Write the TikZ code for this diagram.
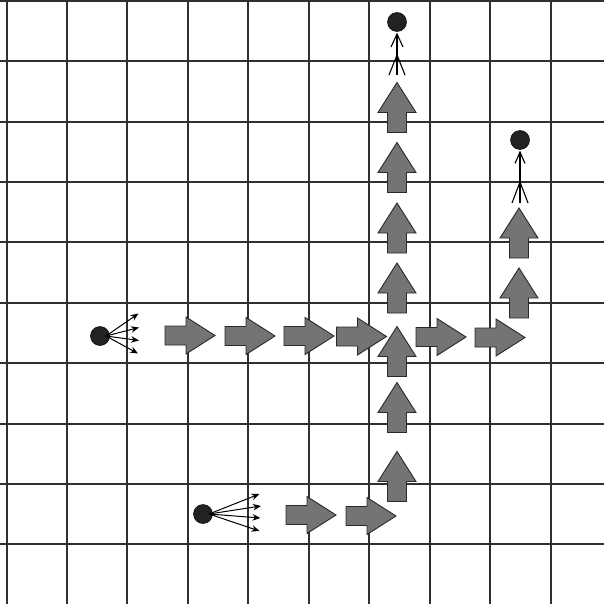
\documentclass[tikz,border=0pt]{standalone}
\usetikzlibrary{arrows.meta}
\definecolor{blockgray}{HTML}{747474}
\definecolor{edgegray}{HTML}{2A2A2A}
\definecolor{gridcol}{HTML}{303030}
\definecolor{dotblack}{HTML}{222222}
\tikzset{
  gridline/.style={draw=gridcol, line width=1.6pt},
  blockarrow/.style={fill=blockgray, draw=edgegray, line width=0.9pt, line join=miter},
  dotnode/.style={circle, fill=dotblack, draw=black, line width=0.5pt, minimum size=19pt, inner sep=0pt},
  fan/.style={draw=black, line width=1pt, -{Stealth[length=8pt,width=6.5pt]}},
  thin/.style={draw=black, line width=1.1pt},
  pics/rarrow/.style={code={
    \path[blockarrow] (-25,-9.5) -- (-4,-9.5) -- (-4,-18.5) -- (25,0) -- (-4,18.5) -- (-4,9.5) -- (-25,9.5) -- cycle;
  }},
  pics/uarrow/.style={code={
    \path[blockarrow] (-9.5,25) -- (-9.5,5) -- (-19,5) -- (0,-25) -- (19,5) -- (9.5,5) -- (9.5,25) -- cycle;
  }}
}
\begin{document}
\begin{tikzpicture}[x=1pt,y=-1pt]
\useasboundingbox (0,0) rectangle (604,604);
\fill[white] (0,0) rectangle (604,604);
% grid
\foreach \gx in {7,67,127,188,248,309,369,430,490,551}
  \draw[gridline] (\gx,0) -- (\gx,604);
\foreach \gy in {1,61,122,182,242,303,363,424,484,544}
  \draw[gridline] (0,\gy) -- (604,\gy);
% right-pointing row (middle)
\pic at (190,335.5) {rarrow};
\pic at (250,336) {rarrow};
\pic at (309,336) {rarrow};
\pic at (361.5,336.5) {rarrow};
\pic at (441,337) {rarrow};
\pic at (500,337.5) {rarrow};
% bottom row
\pic at (311,515) {rarrow};
\pic at (371,516) {rarrow};
% main column
\pic at (397,476.5) {uarrow};
\pic at (397,407.5) {uarrow};
\pic at (397,351.5) {uarrow};
\pic at (397,288) {uarrow};
\pic at (397,228) {uarrow};
\pic at (397,167.5) {uarrow};
\pic at (397,107.5) {uarrow};
% right column
\pic at (519,293) {uarrow};
\pic at (519,233) {uarrow};
% dots
\node[dotnode] (dl) at (100,336) {};
\node[dotnode] (db) at (203,514) {};
\node[dotnode] (dt) at (397,22) {};
\node[dotnode] (dr) at (520,140) {};
% fans
\coordinate (l1) at (138.5,313.5);
\coordinate (l2) at (139,327.5);
\coordinate (l3) at (139,340.5);
\coordinate (l4) at (138,353.5);
\foreach \c in {l1,l2,l3,l4} \draw[fan] (dl.center) ++(6,0) -- (\c);
\coordinate (b1) at (259.5,494);
\coordinate (b2) at (261,506);
\coordinate (b3) at (260.5,518);
\coordinate (b4) at (259.5,531);
\foreach \c in {b1,b2,b3,b4} \draw[fan] (db.center) ++(6,0) -- (\c);
% top dot flight arrow
\coordinate (ttip) at (397,34);
\coordinate (tend) at (397,75);
\coordinate (tfork) at (397,55);
\draw[thin] (tend) -- (ttip);
\draw[thin] (391,47) -- (ttip) -- (403,47);
\draw[thin] (389,75) -- (tfork) -- (405,75);
% right dot flight arrow
\coordinate (rtip) at (520,152);
\coordinate (rend) at (520,203);
\coordinate (rfork) at (520,182);
\draw[thin] (rend) -- (rtip);
\draw[thin] (515,163.5) -- (rtip) -- (525,163.5);
\draw[thin] (512,203) -- (rfork) -- (528,203);
\end{tikzpicture}
\end{document}
